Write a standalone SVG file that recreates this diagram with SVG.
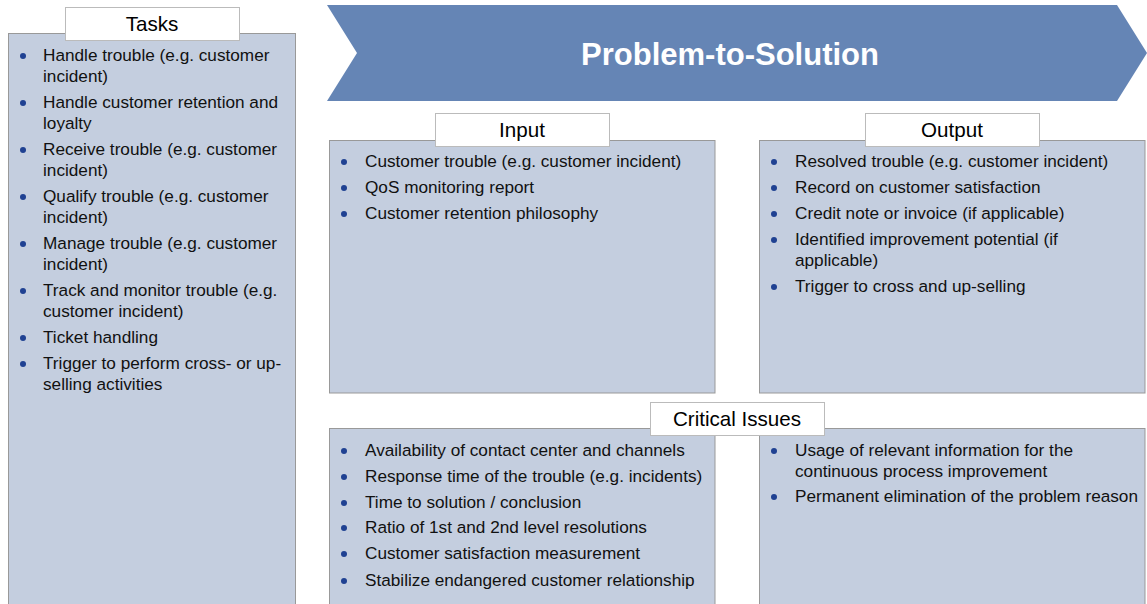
<svg xmlns="http://www.w3.org/2000/svg" width="1147" height="604" viewBox="0 0 1147 604">
<style>
.box{fill:#C4CEDF;stroke:#999999;stroke-width:1}
.lbl{fill:#FFFFFF;stroke:#BBBBBB;stroke-width:1}
.t{font-family:"Liberation Sans",Arial,sans-serif;font-size:17.2px;fill:#111111}
.h{font-family:"Liberation Sans",Arial,sans-serif;font-size:20.6px;fill:#000000;text-anchor:middle}
.b{fill:#1F4192}
.title{font-family:"Liberation Sans",Arial,sans-serif;font-size:31px;font-weight:bold;fill:#FFFFFF;text-anchor:middle}
</style>
<rect width="1147" height="604" fill="#FFFFFF"/>
<g id="arrow">
<polygon points="327,5 1117,5 1147,53 1117,101 327,101 357,53" fill="#6585B5"/>
<text class="title" x="730" y="65">Problem-to-Solution</text>
</g>
<g id="tasks">
<rect class="box" x="8.5" y="33.5" width="287" height="580"/>
<rect class="lbl" x="65.5" y="7.5" width="174" height="33"/>
<text class="h" x="152" y="31">Tasks</text>
<circle class="b" cx="23" cy="56" r="3"/><text class="t" x="43" y="61">Handle trouble (e.g. customer</text><text class="t" x="43" y="82">incident)</text>
<circle class="b" cx="23" cy="103" r="3"/><text class="t" x="43" y="108">Handle customer retention and</text><text class="t" x="43" y="129">loyalty</text>
<circle class="b" cx="23" cy="150" r="3"/><text class="t" x="43" y="155">Receive trouble (e.g. customer</text><text class="t" x="43" y="176">incident)</text>
<circle class="b" cx="23" cy="197" r="3"/><text class="t" x="43" y="202">Qualify trouble (e.g. customer</text><text class="t" x="43" y="223">incident)</text>
<circle class="b" cx="23" cy="244" r="3"/><text class="t" x="43" y="249">Manage trouble (e.g. customer</text><text class="t" x="43" y="270">incident)</text>
<circle class="b" cx="23" cy="291" r="3"/><text class="t" x="43" y="296">Track and monitor trouble (e.g.</text><text class="t" x="43" y="317">customer incident)</text>
<circle class="b" cx="23" cy="338" r="3"/><text class="t" x="43" y="343">Ticket handling</text>
<circle class="b" cx="23" cy="364" r="3"/><text class="t" x="43" y="369">Trigger to perform cross- or up-</text><text class="t" x="43" y="390">selling activities</text>
</g>
<g id="input">
<rect class="box" x="329.5" y="140.5" width="385.5" height="252.5"/>
<rect class="lbl" x="435.5" y="113.5" width="174" height="33"/>
<text class="h" x="522" y="137">Input</text>
<circle class="b" cx="344" cy="162" r="3"/><text class="t" x="365" y="167">Customer trouble (e.g. customer incident)</text>
<circle class="b" cx="344" cy="188" r="3"/><text class="t" x="365" y="193">QoS monitoring report</text>
<circle class="b" cx="344" cy="214" r="3"/><text class="t" x="365" y="219">Customer retention philosophy</text>
</g>
<g id="output">
<rect class="box" x="759.5" y="140.5" width="385.5" height="252.5"/>
<rect class="lbl" x="865.5" y="113.5" width="174" height="33"/>
<text class="h" x="952" y="137">Output</text>
<circle class="b" cx="774" cy="162" r="3"/><text class="t" x="795" y="167">Resolved trouble (e.g. customer incident)</text>
<circle class="b" cx="774" cy="188" r="3"/><text class="t" x="795" y="193">Record on customer satisfaction</text>
<circle class="b" cx="774" cy="214" r="3"/><text class="t" x="795" y="219">Credit note or invoice (if applicable)</text>
<circle class="b" cx="774" cy="240" r="3"/><text class="t" x="795" y="245">Identified improvement potential (if</text><text class="t" x="795" y="266">applicable)</text>
<circle class="b" cx="774" cy="287" r="3"/><text class="t" x="795" y="292">Trigger to cross and up-selling</text>
</g>
<g id="critical-issues">
<rect class="box" x="329.5" y="428.5" width="385.5" height="185"/>
<rect class="box" x="759.5" y="428.5" width="385.5" height="185"/>
<rect class="lbl" x="650.5" y="402.5" width="174" height="33"/>
<text class="h" x="737" y="426">Critical Issues</text>
<circle class="b" cx="344" cy="451" r="3"/><text class="t" x="365" y="455.5">Availability of contact center and channels</text>
<circle class="b" cx="344" cy="477" r="3"/><text class="t" x="365" y="481.5">Response time of the trouble (e.g. incidents)</text>
<circle class="b" cx="344" cy="503" r="3"/><text class="t" x="365" y="507.5">Time to solution / conclusion</text>
<circle class="b" cx="344" cy="528" r="3"/><text class="t" x="365" y="533">Ratio of 1st and 2nd level resolutions</text>
<circle class="b" cx="344" cy="554" r="3"/><text class="t" x="365" y="559">Customer satisfaction measurement</text>
<circle class="b" cx="344" cy="581" r="3"/><text class="t" x="365" y="585.5">Stabilize endangered customer relationship</text>
<circle class="b" cx="774" cy="451" r="3"/><text class="t" x="795" y="455.5">Usage of relevant information for the</text><text class="t" x="795" y="476.5">continuous process improvement</text>
<circle class="b" cx="774" cy="497" r="3"/><text class="t" x="795" y="502">Permanent elimination of the problem reason</text>
</g>
<g id="connectors"/>
</svg>
